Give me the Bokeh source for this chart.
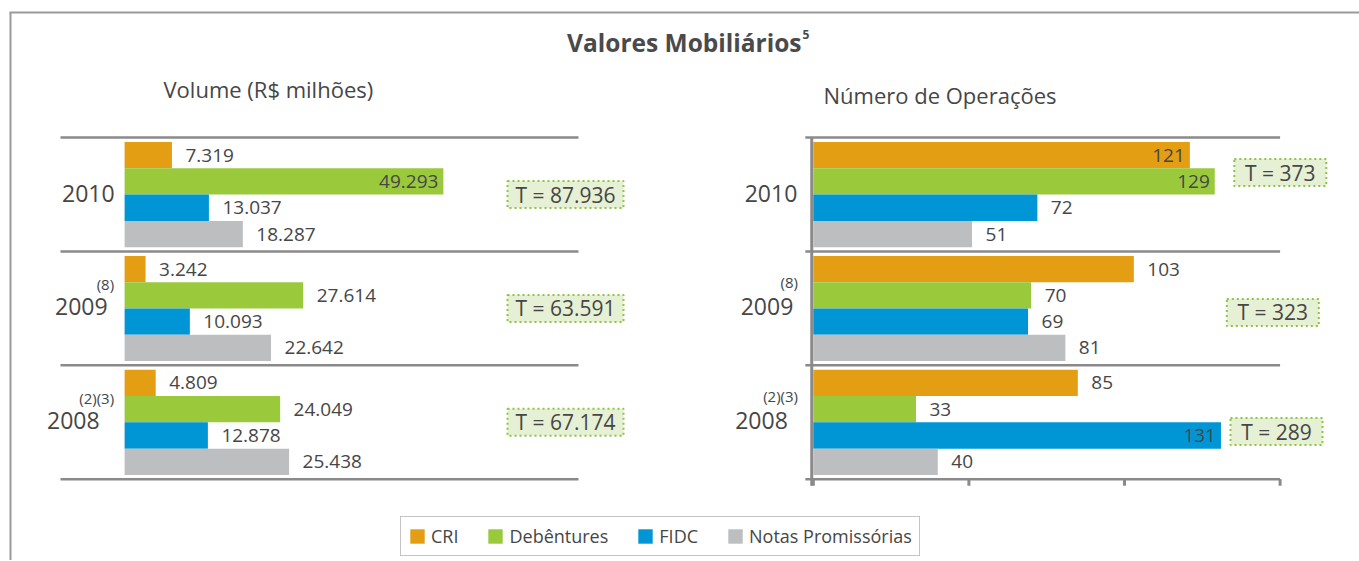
from bokeh.plotting import figure
from bokeh.models import Range1d, ColumnDataSource, Legend, LegendItem
from bokeh.core.properties import value
from bokeh.embed import file_html
from bokeh.resources import INLINE

# ---------------- data ----------------
title_text = "Valores Mobiliários"
title_note = "5"
volume_title = "Volume (R$ milhões)"
ops_title = "Número de Operações"

years = ["2010", "2009", "2008"]
year_notes = ["", "(8)", "(2)(3)"]
series = ["CRI", "Debêntures", "FIDC", "Notas Promissórias"]

volume_cri = [7319, 3242, 4809]
volume_deb = [49293, 27614, 24049]
volume_fidc = [13037, 10093, 12878]
volume_np = [18287, 22642, 25438]

ops_cri = [121, 103, 85]
ops_deb = [129, 70, 33]
ops_fidc = [72, 69, 131]
ops_np = [51, 81, 40]

ops_ticks = [0, 50, 100, 150]

# ---------------- style ----------------
W, H = 1359, 560
FONT = "Open Sans"
TXT = "#464646"
RULE = "#8a8a8a"
colors = ["#E39E14", "#9ACA3C", "#0096D6", "#BCBEC0"]
BOX_FILL = "#E6F0D5"
BOX_LINE = "#8DC63F"

BAR_PX = 26.3      # one bar height in pixels
GROUP = 4.33       # group pitch in bar heights
VOL_ZERO_PX, VOL_PPU = 124.1, 0.006467
OPS_ZERO_PX, OPS_PPU = 812.8, 3.112
Y_ZERO_PX = 141.5


def axis_range(zero_px, ppu, size, flip=False):
    if flip:
        return Range1d(start=(size - zero_px) / ppu, end=-zero_px / ppu)
    return Range1d(start=-zero_px / ppu, end=(size - zero_px) / ppu)


def fmt(v):
    return f"{v:,}".replace(",", ".")


p = figure(width=W, height=H, output_backend="svg", toolbar_location=None,
           x_axis_type=None, y_axis_type=None, min_border=0,
           x_range=axis_range(VOL_ZERO_PX, VOL_PPU, W),
           y_range=axis_range(Y_ZERO_PX, BAR_PX, H, flip=True))
p.extra_x_ranges = {"ops": axis_range(OPS_ZERO_PX, OPS_PPU, W), "px": Range1d(0, W)}
p.extra_y_ranges = {"px": Range1d(H, 0)}
p.outline_line_color = None
p.background_fill_color = "white"
p.border_fill_color = "white"

# outer frame (top and left edges)
p.segment(x0=[9, 10], x1=[W, 10], y0=[12, 12], y1=[12, H], line_color="#9a9a9a",
          line_width=2, x_range_name="px", y_range_name="px")

# titles
p.text(x=[801], y=[42], text=[title_text], text_font=value(FONT), text_font_style="bold",
       text_font_size="24.5px", text_color="#4a4a4a", text_align="right",
       text_baseline="middle", x_range_name="px", y_range_name="px")
p.text(x=[802], y=[34], text=[title_note], text_font=value(FONT), text_font_style="bold",
       text_font_size="12px", text_color="#4a4a4a", text_align="left",
       text_baseline="middle", x_range_name="px", y_range_name="px")
p.text(x=[163, 823], y=[88, 94], text=[volume_title, ops_title], text_font=value(FONT),
       text_font_size="22px", text_color=TXT, text_align="left",
       text_baseline="middle", x_range_name="px", y_range_name="px")

sep_y = [g * GROUP - 0.17 for g in range(4)]
group_mid = [g * GROUP + 2 for g in range(3)]

# separators / axes
p.segment(x0=60, x1=578, y0=sep_y, y1=sep_y, line_color=RULE, line_width=2.5,
          x_range_name="px")
p.segment(x0=-8 / OPS_PPU, x1=ops_ticks[-1], y0=sep_y, y1=sep_y, line_color=RULE,
          line_width=2.5, x_range_name="ops")
p.segment(x0=[-0.5], x1=[-0.5], y0=[sep_y[0]], y1=[sep_y[-1] + 0.25], line_color=RULE,
          line_width=3, x_range_name="ops")
p.segment(x0=ops_ticks, x1=ops_ticks, y0=sep_y[-1], y1=sep_y[-1] + 0.25,
          line_color=RULE, line_width=3, x_range_name="ops")

panels = [
    ("default", [volume_cri, volume_deb, volume_fidc, volume_np], 40000),
    ("ops", [ops_cri, ops_deb, ops_fidc, ops_np], 110),
]

legend_renderers = []
for rname, vals, inside_min in panels:
    out_src = dict(x=[], y=[], t=[])
    in_src = dict(x=[], y=[], t=[])
    for s, (vs, c) in enumerate(zip(vals, colors)):
        ys = [g * GROUP + s + 0.5 for g in range(3)]
        r = p.hbar(y=ys, left=0, right=vs, height=1, fill_color=c, line_color=None,
                   x_range_name=rname)
        if rname == "default":
            legend_renderers.append(r)
        for v, yy in zip(vs, ys):
            d = in_src if v > inside_min else out_src
            d["x"].append(v)
            d["y"].append(yy)
            d["t"].append(fmt(v))
    p.text(x="x", y="y", text="t", source=ColumnDataSource(out_src), x_offset=13.5,
           text_font=value(FONT), text_font_size="19px", text_color=TXT,
           text_align="left", text_baseline="middle", x_range_name=rname)
    p.text(x="x", y="y", text="t", source=ColumnDataSource(in_src), x_offset=-5,
           text_font=value(FONT), text_font_size="19px", text_color=TXT,
           text_align="right", text_baseline="middle", x_range_name=rname)

# year labels and notes
year_offsets = {"default": [-10, -17, -25], "ops": [-16, -20, -25.5]}
note_offsets = {"default": (-10.5, -24), "ops": (-15.3, -26)}
for rname in ["default", "ops"]:
    src = ColumnDataSource(dict(x=[0] * 3, y=group_mid, t=years, xo=year_offsets[rname]))
    p.text(x="x", y="y", text="t", x_offset="xo", y_offset=-1.5, source=src,
           text_font=value(FONT), text_font_size="23px", text_color=TXT,
           text_align="right", text_baseline="middle", x_range_name=rname)
    nx, ny = note_offsets[rname]
    p.text(x=[0] * 3, y=group_mid, text=year_notes, x_offset=nx, y_offset=ny,
           text_font=value(FONT), text_font_size="15px", text_color=TXT,
           text_align="right", text_baseline="middle", x_range_name=rname)

# totals boxes
vol_tot = [sum(v) for v in zip(volume_cri, volume_deb, volume_fidc, volume_np)]
ops_tot = [sum(v) for v in zip(ops_cri, ops_deb, ops_fidc, ops_np)]
box_specs = [
    ([565] * 3, group_mid, 116, vol_tot),
    ([1279.8, 1272.3, 1276], [g * GROUP + d for g, d in zip(range(3), [1.16, 2.15, 2.35])],
     92, ops_tot),
]
for bx, by, bw, tot in box_specs:
    p.rect(x=bx, y=by, width=bw, height=27, width_units="screen", height_units="screen",
           fill_color=BOX_FILL, line_color=BOX_LINE, line_dash="2 3", line_width=2,
           x_range_name="px")
    p.text(x=bx, y=by, text=["T = " + fmt(t) for t in tot], text_font=value(FONT),
           text_font_size="21px", text_color=TXT, text_align="center",
           text_baseline="middle", x_range_name="px")

legend = Legend(items=[LegendItem(label=s, renderers=[r]) for s, r in zip(series, legend_renderers)],
                orientation="horizontal", location=(400, 4),
                glyph_width=18, glyph_height=18, label_standoff=5, spacing=28,
                padding=7, margin=0, border_line_color=RULE, border_line_width=1.5,
                background_fill_color="white", background_fill_alpha=1,
                label_text_font=FONT, label_text_font_size="18px",
                label_text_color=TXT, label_height=18)
p.add_layout(legend)

open("out.html", "w").write(file_html(p, INLINE))
